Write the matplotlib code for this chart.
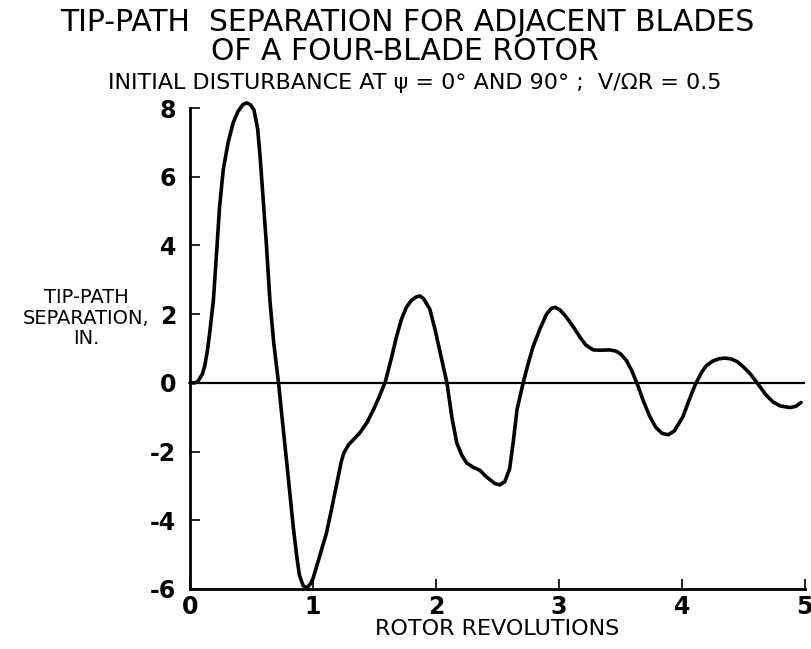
import matplotlib
matplotlib.use("Agg")
import matplotlib.pyplot as plt

plt.rcParams['font.family'] = ['DejaVu Sans']

# curve (rotor revolutions, separation in inches)
rev = [0, 0.04, 0.065, 0.10, 0.12, 0.14, 0.16, 0.19, 0.22, 0.24, 0.27, 0.31,
       0.35, 0.39, 0.43, 0.46, 0.49, 0.52, 0.55, 0.57, 0.59, 0.62, 0.65, 0.68,
       0.72, 0.76, 0.79, 0.84, 0.87, 0.89, 0.92, 0.95, 0.98, 1.00, 1.05, 1.11,
       1.15, 1.19, 1.23, 1.25, 1.29, 1.33, 1.38, 1.44, 1.49, 1.54, 1.59, 1.64,
       1.68, 1.72, 1.76, 1.80, 1.84, 1.87, 1.90, 1.95, 1.99, 2.03, 2.09, 2.13,
       2.17, 2.21, 2.25, 2.30, 2.36, 2.40, 2.44, 2.48, 2.52, 2.56, 2.60, 2.63,
       2.66, 2.71, 2.75, 2.79, 2.85, 2.90, 2.94, 2.97, 3.01, 3.06, 3.12, 3.17,
       3.22, 3.28, 3.34, 3.41, 3.46, 3.50, 3.55, 3.59, 3.64, 3.69, 3.74, 3.79,
       3.84, 3.89, 3.94, 4.01, 4.06, 4.11, 4.16, 4.20, 4.25, 4.30, 4.35, 4.40,
       4.45, 4.50, 4.56, 4.63, 4.68, 4.74, 4.80, 4.88, 4.93, 4.97]
sep = [0, 0.0, 0.05, 0.25, 0.5, 0.9, 1.45, 2.4, 4.0, 5.1, 6.2, 7.0,
       7.56, 7.9, 8.1, 8.15, 8.1, 7.95, 7.4, 6.6, 5.6, 4.1, 2.4, 1.2,
       0.0, -1.4, -2.43, -4.2, -5.1, -5.6, -5.9, -5.97, -5.85, -5.7, -5.1, -4.37,
       -3.7, -3.0, -2.3, -2.05, -1.8, -1.65, -1.46, -1.15, -0.8, -0.4, 0.05, 0.75,
       1.35, 1.85, 2.2, 2.4, 2.5, 2.53, 2.45, 2.15, 1.6, 0.96, 0.0, -1.0,
       -1.75, -2.1, -2.33, -2.45, -2.55, -2.7, -2.82, -2.93, -2.97, -2.88, -2.5, -1.7,
       -0.78, 0.0, 0.55, 1.05, 1.6, 2.0, 2.17, 2.2, 2.12, 1.92, 1.62, 1.34,
       1.1, 0.96, 0.95, 0.96, 0.93, 0.85, 0.65, 0.38, -0.05, -0.55, -0.98, -1.3,
       -1.47, -1.51, -1.4, -0.98, -0.5, -0.05, 0.3, 0.5, 0.63, 0.7, 0.72, 0.7,
       0.62, 0.47, 0.25, -0.08, -0.33, -0.55, -0.67, -0.72, -0.68, -0.57]

xticks = [0, 1, 2, 3, 4, 5]
yticks = [-6, -4, -2, 0, 2, 4, 6, 8]

fig = plt.figure(figsize=(8.12, 6.49), dpi=100)
ax = fig.add_axes([0.234, 0.0925, 0.757, 0.741])

ax.axhline(0, color='black', lw=1.6)
# peak goes a little over the top tick, as in the original
ax.plot(rev, sep, color='black', lw=2.6, solid_joinstyle='round',
        solid_capstyle='round', clip_on=False)

ax.set_xlim(0, 5)
ax.set_ylim(-6, 8)
ax.set_xticks(xticks)
ax.set_yticks(yticks)
ax.set_xticklabels([str(t) for t in xticks])
ax.set_yticklabels([str(t) for t in yticks])
ax.tick_params(direction='in', length=7, width=1.2, labelsize=17)
ax.tick_params(axis='y', pad=10)
ax.tick_params(axis='x', pad=4)
for lab in ax.get_xticklabels() + ax.get_yticklabels():
    lab.set_fontweight('bold')

ax.spines['top'].set_visible(False)
ax.spines['right'].set_visible(False)
ax.spines['left'].set_linewidth(2)
ax.spines['bottom'].set_linewidth(2)

ax.set_xlabel('ROTOR REVOLUTIONS', fontsize=16, labelpad=0)
fig.text(0.106, 0.51, 'TIP-PATH\nSEPARATION,\nIN.', ha='center', va='center',
         fontsize=14, linespacing=1.1)

fig.text(0.501, 0.966, 'TIP-PATH  SEPARATION FOR ADJACENT BLADES',
         ha='center', va='center', fontsize=21.5)
fig.text(0.499, 0.92, 'OF A FOUR-BLADE ROTOR', ha='center', va='center',
         fontsize=21.5)
fig.text(0.511, 0.872, 'INITIAL DISTURBANCE AT ψ = 0° AND 90° ;  V/ΩR = 0.5',
         ha='center', va='center', fontsize=16)

fig.savefig('out.png', dpi=100)
